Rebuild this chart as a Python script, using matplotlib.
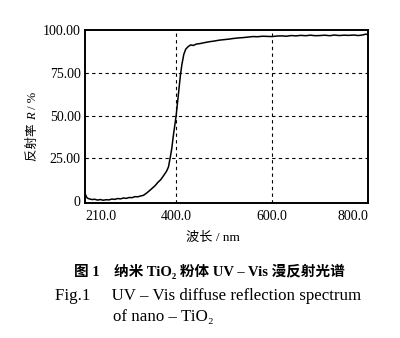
import matplotlib.pyplot as plt

plt.rcParams['font.family'] = ['Liberation Serif', 'Noto Sans CJK SC']

# 漫反射光谱数据 (波长 nm, 反射率 %)
wavelength = [210, 212, 214, 216, 220, 225, 230, 236, 242, 248, 254, 260, 266, 272,
              278, 284, 290, 296, 302, 308, 314, 320, 326, 332, 338, 344, 350, 356,
              362, 368, 374, 380, 384, 388, 391, 394, 397, 400, 403, 406, 409, 412,
              416, 420, 425, 430, 436, 442, 450, 460, 470, 480, 490, 500, 510, 520,
              530, 540, 550, 560, 570, 580, 590, 600, 610, 620, 630, 640, 650, 660,
              670, 680, 690, 700, 710, 720, 730, 740, 750, 760, 770, 780, 790, 795, 800]
reflectance = [4.5, 3.2, 2.0, 1.6, 1.2, 0.9, 1.1, 0.6, 0.9, 0.5, 0.8, 0.7, 1.2, 1.0,
               1.5, 1.3, 1.8, 1.6, 2.1, 2.0, 2.6, 2.5, 3.0, 3.4, 4.6, 6.0, 7.5, 9.0,
               11.0, 12.6, 15.0, 17.5, 20.0, 26.0, 31.0, 38.0, 44.0, 50.0, 58.0, 66.0,
               74.0, 80.0, 86.0, 89.0, 90.5, 91.5, 91.2, 92.0, 92.3, 92.9, 93.4, 93.8,
               94.3, 94.6, 94.9, 95.3, 95.6, 95.8, 96.1, 96.4, 96.3, 96.6, 96.5, 96.4,
               96.7, 96.8, 96.6, 97.0, 96.8, 97.1, 96.9, 97.2, 96.9, 97.0, 97.2, 96.9,
               97.3, 97.0, 97.2, 97.1, 97.3, 97.0, 97.4, 97.8, 97.6]

x_ticks = [210, 400, 600, 800]
x_labels = ['210.0', '400.0', '600.0', '800.0']
y_ticks = [0, 25, 50, 75, 100]
y_labels = ['0', '25.00', '50.00', '75.00', '100.00']

fig = plt.figure(figsize=(4.0, 3.38), dpi=100)
ax = fig.add_axes([0.2125, 0.40, 0.7075, 0.51])

ax.plot(wavelength, reflectance, color='black', linewidth=1.1)

ax.set_xlim(210, 800)
ax.set_ylim(-1, 100)

# 虚线网格, 只在内部刻度处
for xv in x_ticks[1:-1]:
    ax.axvline(xv, color='black', linestyle=(0, (3, 3)), linewidth=0.8)
for yv in y_ticks[1:-1]:
    ax.axhline(yv, color='black', linestyle=(0, (3, 3)), linewidth=0.8)

ax.set_xticks(x_ticks)
ax.set_xticklabels(x_labels)
ax.set_yticks(y_ticks)
ax.set_yticklabels(y_labels)
ax.tick_params(length=0, labelsize=10, pad=3)
ax.tick_params(axis='x', pad=5)
xl = ax.get_xticklabels()
xl[0].set_ha('left')
xl[-1].set_ha('right')

for s in ax.spines.values():
    s.set_linewidth(1.4)

# y 轴标题分段写, R 用斜体
renderer = fig.canvas.get_renderer()
y0 = 0.525
for part, style in [('反射率 ', 'normal'), ('R', 'italic'), (' / %', 'normal')]:
    t = fig.text(0.083, y0, part, rotation=90, ha='center', va='bottom',
                 fontsize=9, style=style)
    bb = t.get_window_extent(renderer)
    y0 += bb.height / fig.bbox.height

fig.text(0.533, 0.296, '波长 / nm', ha='center', va='center', fontsize=9.5)

# 图题
fig.text(0.523, 0.198, '图 1    纳米 TiO₂ 粉体 UV – Vis 漫反射光谱', ha='center',
         va='center', fontsize=10.5, fontweight='bold')
fig.text(0.137, 0.124, 'Fig.1     UV – Vis diffuse reflection spectrum', ha='left',
         va='center', fontsize=12.2)
fig.text(0.283, 0.062, 'of nano – TiO₂', ha='left', va='center', fontsize=12.2)

fig.savefig('out.png', dpi=100)
